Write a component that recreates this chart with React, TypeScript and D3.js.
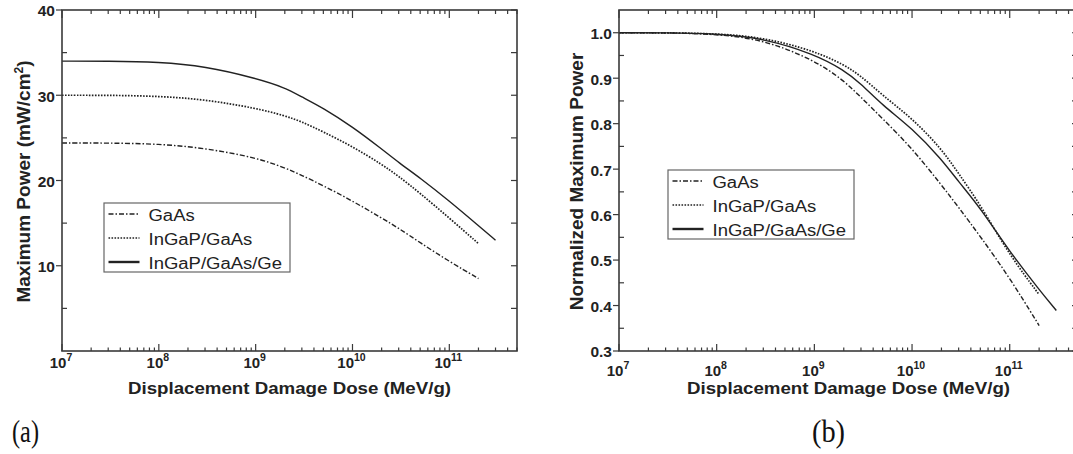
import React from 'react';
import * as d3 from 'd3';

// shared dose grid (MeV/g)
const dose = [1e7, 3e7, 1e8, 3e8, 1e9, 2e9, 3e9, 5e9, 1e10, 2e10, 3e10, 5e10, 1e11, 2e11, 3e11];
const seriesNames = ['GaAs', 'InGaP/GaAs', 'InGaP/GaAs/Ge'];

// (a) maximum power, mW/cm2
const gaasPower = [24.4, 24.4, 24.3, 23.8, 22.7, 21.5, 20.6, 19.4, 17.6, 15.6, 14.4, 12.7, 10.5, 8.5];
const ingapPower = [30.0, 30.0, 29.9, 29.5, 28.5, 27.6, 26.9, 25.7, 24.0, 21.9, 20.5, 18.5, 15.6, 12.6];
const tripleJPower = [34.0, 34.0, 33.9, 33.4, 32.0, 30.9, 29.8, 28.5, 26.3, 23.7, 22.1, 20.3, 17.6, 14.7, 13.0];

// (b) normalized maximum power
const gaasNorm = [1.0, 1.0, 0.997, 0.985, 0.94, 0.895, 0.858, 0.811, 0.746, 0.665, 0.616, 0.552, 0.461, 0.356];
const ingapNorm = [1.0, 1.0, 0.998, 0.99, 0.96, 0.93, 0.905, 0.862, 0.812, 0.745, 0.69, 0.622, 0.51, 0.424];
const tripleJNorm = [1.0, 1.0, 0.998, 0.988, 0.953, 0.918, 0.888, 0.84, 0.79, 0.722, 0.672, 0.615, 0.518, 0.435, 0.389];

const powerTicks = [10, 20, 30, 40];
const powerMinor = [5, 15, 25, 35];
const normTicks = [0.3, 0.4, 0.5, 0.6, 0.7, 0.8, 0.9, 1.0];
const normMinor = [0.35, 0.45, 0.55, 0.65, 0.75, 0.85, 0.95];

const dashes = ['5,2,1.5,2', '1.6,1.4', ''];
const SANS = '"Liberation Sans", Arial, Helvetica, sans-serif';
const INK = '#222';
const AXIS = '#3a3a3a';

type PanelProps = {
  left: number;
  right: number;
  top: number;
  bottom: number;
  yDomain: [number, number];
  yTicks: number[];
  yMinor: number[];
  fmt: (v: number) => string;
  data: number[][];
  legendX: number;
  legendY: number;
  yTitle: React.ReactNode;
  yTitleX: number;
  xLabelY: number;
};

function Panel(p: PanelProps) {
  const x = d3.scaleLog().domain([1e7, 5e11]).range([p.left, p.right]);
  const y = d3.scaleLinear().domain(p.yDomain).range([p.bottom, p.top]);
  const allX = x.ticks();
  const isMajor = (v: number) => Math.abs(Math.log10(v) - Math.round(Math.log10(v))) < 1e-9;

  // smooth curve through the read-off points
  const line = (vals: number[]) =>
    d3
      .line<number>()
      .x((_, i) => x(dose[i]))
      .y((d) => y(d))
      .curve(d3.curveBasis)(vals) || '';

  const cx = (p.left + p.right) / 2;
  const cy = (p.top + p.bottom) / 2;

  return (
    <g>
      {p.data.map((vals, i) => (
        <path key={i} d={line(vals)} fill="none" stroke={INK}
          strokeWidth={i === 1 ? 1.7 : 1.4} strokeDasharray={dashes[i] || undefined} />
      ))}

      {/* frame */}
      <rect x={p.left} y={p.top} width={p.right - p.left} height={p.bottom - p.top}
        fill="none" stroke={AXIS} strokeWidth={1.6} />

      {/* x ticks, top and bottom */}
      {allX.map((v, i) => {
        const xx = x(v);
        const big = isMajor(v);
        return (
          <g key={i} stroke={AXIS} strokeWidth={1.2}>
            <line x1={xx} x2={xx} y1={p.bottom} y2={p.bottom - (big ? 7 : 3.5)} />
            <line x1={xx} x2={xx} y1={p.top} y2={p.top + (big ? 8 : 4)} />
          </g>
        );
      })}
      {allX.filter(isMajor).map((v, i) => (
        <text key={i} x={x(v) - 1} y={p.xLabelY} textAnchor="middle" fontFamily={SANS}
          fontWeight="bold" fontSize={15} fill={INK}>
          10<tspan dy={-7} fontSize={10.5}>{Math.round(Math.log10(v))}</tspan>
        </text>
      ))}

      {/* y ticks */}
      {p.yTicks.map((v, i) => (
        <g key={i} stroke={AXIS} strokeWidth={1.2}>
          <line x1={p.left - 6} x2={p.left} y1={y(v)} y2={y(v)} />
          <line x1={p.right - 6} x2={p.right} y1={y(v)} y2={y(v)} />
        </g>
      ))}
      {p.yMinor.map((v, i) => (
        <g key={i} stroke={AXIS} strokeWidth={1.2}>
          <line x1={p.left} x2={p.left + 5} y1={y(v)} y2={y(v)} />
          <line x1={p.right - 6} x2={p.right} y1={y(v)} y2={y(v)} />
        </g>
      ))}
      {p.yTicks.map((v, i) => (
        <text key={i} x={p.left - 7} y={y(v) + 1} dy="0.35em" textAnchor="end" fontFamily={SANS}
          fontWeight="bold" fontSize={15.5} fill={INK}>
          {p.fmt(v)}
        </text>
      ))}

      {/* axis titles */}
      <text transform={`translate(${cx},394) scale(1,0.88)`} textAnchor="middle" fontFamily={SANS}
        fontWeight="bold" fontSize={18.7} fill={INK}>
        Displacement Damage Dose (MeV/g)
      </text>
      <text transform={`translate(${p.yTitleX},${cy + 1}) rotate(-90)`} textAnchor="middle"
        fontFamily={SANS} fontWeight="bold" fontSize={19} fill={INK}>
        {p.yTitle}
      </text>

      {/* legend */}
      <g transform={`translate(${p.legendX},${p.legendY})`}>
        <rect x={0} y={0} width={186} height={69} fill="#fff" stroke="#666" strokeWidth={1.2} />
        {seriesNames.map((name, i) => (
          <g key={name} transform={`translate(0,${11 + i * 24})`}>
            <line x1={4.5} x2={35.5} y1={0} y2={0} stroke={INK}
              strokeWidth={i === 2 ? 2.4 : 1.5} strokeDasharray={dashes[i] || undefined} />
            <text transform="translate(44.5,6.5) scale(1,0.9)" fontFamily={SANS} fontSize={18.5} fill={INK}>
              {name}
            </text>
          </g>
        ))}
      </g>
    </g>
  );
}

export default function App() {
  return (
    <svg width={1073} height={454} style={{ position: 'absolute', left: 0, top: 0, background: '#fff' }}>
      <rect width={1073} height={454} fill="#fff" />
      <Panel
        left={62} right={517} top={10} bottom={351}
        yDomain={[0, 40]} yTicks={powerTicks} yMinor={powerMinor}
        fmt={(v) => String(v)}
        data={[gaasPower, ingapPower, tripleJPower]}
        legendX={104} legendY={203}
        yTitle={<>Maximum Power (mW/cm<tspan dy={-7} fontSize={12}>2</tspan><tspan dy={7}>)</tspan></>}
        yTitleX={30}
        xLabelY={368}
      />
      <Panel
        left={619} right={1078} top={10} bottom={351}
        yDomain={[0.3, 1.05]} yTicks={normTicks} yMinor={normMinor}
        fmt={d3.format('.1f')}
        data={[gaasNorm, ingapNorm, tripleJNorm]}
        legendX={668} legendY={170}
        yTitle="Normalized Maximum Power"
        yTitleX={583}
        xLabelY={376}
      />
      <text x={12} y={442} fontFamily='"Liberation Serif", "Times New Roman", serif' fontSize={32}
        textLength={27} lengthAdjust="spacingAndGlyphs" fill="#111">(a)</text>
      <text x={812} y={442} fontFamily='"Liberation Serif", "Times New Roman", serif' fontSize={32}
        textLength={33} lengthAdjust="spacingAndGlyphs" fill="#111">(b)</text>
    </svg>
  );
}
